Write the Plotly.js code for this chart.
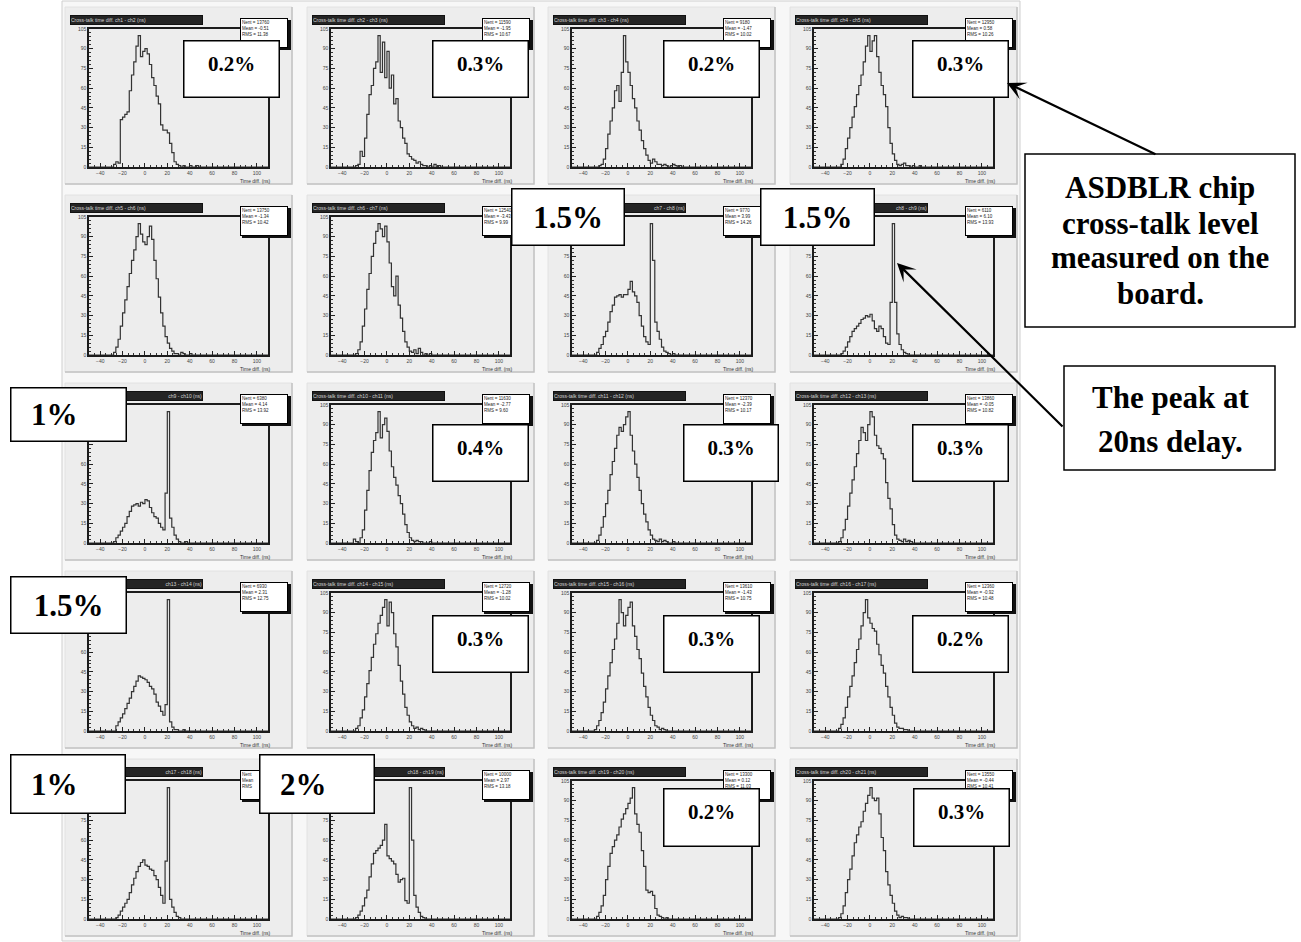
<!DOCTYPE html>
<html><head><meta charset="utf-8">
<script src="https://cdn.plot.ly/plotly-3.0.1.min.js"></script>
<style>html,body{margin:0;padding:0;background:#fff;}#chart{width:1301px;height:942px;}</style>
</head><body><div id="chart"></div>
<script>
// ---------------- data ----------------
const binStart = -30;          // ns, left edge of first bin
const binWidth = 2;            // ns
const xRange = [-50, 110];
const xTickStart = -40, xTickStep = 20;
const yTickStep = 15;

const hist_r1c1 = [0,2,4,3,36,38,40,42,58,70, 80,92,100,84,88,90,86,78,68,62, 54,48,32,28,28,26,18,11,4,2, 1,0,1,0,0,1,0,0,1,0];
const hist_r1c2 = [0,1,2,12,8,22,40,55,62,75, 80,100,72,95,68,88,60,70,48,52, 35,30,22,18,10,8,6,5,3,4, 2,1,1,0,1,0,2,0,1,0];
const hist_r1c3 = [0,0,1,2,6,14,25,35,45,58, 62,50,72,100,80,72,62,52,45,35, 28,20,14,9,5,3,6,4,2,2, 1,2,1,0,1,2,1,0,1,0];
const hist_r1c4 = [0,0,2,6,14,22,30,38,46,55, 62,70,80,92,100,88,96,100,84,72, 62,55,46,30,18,10,5,2,1,2, 3,1,1,0,1,0,0,1,0,0];
const hist_r2c1 = [0,2,6,12,22,32,42,52,62,72, 80,90,100,92,86,84,90,98,88,72, 58,44,32,22,14,9,5,3,1,1, 0,2,1,0,0,1,0,0,0,0];
const hist_r2c2 = [0,1,4,10,22,35,50,62,75,85, 94,100,96,90,98,86,70,52,45,60, 38,28,18,10,6,3,2,4,1,5, 2,0,1,0,1,0,0,0,0,0];
const hist_r2c3 = [0,2,5,8,14,18,25,33,38,44, 45,46,44,46,46,50,56,48,45,40, 30,22,14,10,8,100,72,25,18,12, 6,3,2,1,0,1,0,0,0,0];
const hist_r2c4 = [0,0,1,3,6,10,14,18,20,22, 24,27,28,30,29,31,26,20,18,22, 20,14,9,8,40,100,40,16,8,4, 2,1,0,0,0,0,0,0,0,0];
const hist_r3c1 = [0,1,4,6,9,12,15,20,24,28, 29,30,28,31,30,33,32,27,23,20, 19,15,12,10,38,100,19,12,6,3, 1,0,0,1,0,0,0,0,0,0];
const hist_r3c2 = [3,1,0,4,10,25,40,55,69,78, 84,100,80,90,95,85,70,58,50,44, 36,30,22,14,8,4,2,1,2,1, 1,0,0,0,1,0,0,0,0,0];
const hist_r3c3 = [0,2,6,12,20,30,40,52,62,72, 82,88,85,90,96,100,82,70,60,50, 40,30,22,16,10,6,3,2,1,3, 1,2,1,0,0,1,0,0,0,0];
const hist_r3c4 = [0,1,4,10,18,28,38,48,58,68, 78,88,84,78,90,100,96,82,74,72, 68,64,46,34,26,14,6,3,2,1, 3,1,2,1,0,0,0,0,0,0];
const hist_r4c1 = [0,0,4,7,10,13,17,21,25,30, 34,38,42,41,40,39,37,34,32,28, 22,19,15,12,20,100,7,3,1,1, 0,0,1,0,0,0,0,0,0,0];
const hist_r4c2 = [0,2,4,10,16,26,36,46,56,66, 74,82,88,94,100,80,98,90,74,64, 50,38,28,18,12,7,4,2,3,1, 2,1,0,0,0,0,0,0,0,0];
const hist_r4c3 = [1,4,8,14,22,32,42,52,62,70, 82,100,90,80,88,94,98,80,72,62, 55,44,34,26,18,12,8,4,3,1, 2,1,0,0,0,0,0,0,0,0];
const hist_r4c4 = [0,2,5,10,18,26,34,42,52,62, 70,80,90,100,86,82,78,76,66,58, 50,44,34,26,18,12,6,3,2,2, 1,1,0,0,0,0,0,0,0,0];
const hist_r5c1 = [0,0,1,3,6,9,12,15,20,26, 31,36,40,43,45,41,40,38,37,33, 30,24,18,12,44,100,15,9,5,2, 1,0,0,0,0,0,0,0,0,0];
const hist_r5c2 = [0,1,3,6,10,16,22,32,42,50, 52,54,56,60,72,48,46,44,42,34, 28,30,31,14,12,100,60,18,9,5, 2,1,0,0,0,0,0,0,0,0];
const hist_r5c3 = [0,2,5,10,18,30,40,50,55,60, 64,70,76,80,84,88,92,100,80,72, 66,52,40,22,20,21,18,8,3,2, 1,0,1,0,0,0,0,0,0,0];
const hist_r5c4 = [0,1,4,10,20,30,38,48,58,64, 70,74,82,88,94,100,92,90,92,80, 62,52,36,26,18,12,6,3,1,2, 1,1,0,0,0,0,0,0,0,0];

const levelLabels = ['0.2%','0.3%','0.2%','0.3%', '','','1.5%','1.5%', '1%','0.4%','0.3%','0.3%', '1.5%','0.3%','0.3%','0.2%', '1%','2%','0.2%','0.3%'];
const channelNumbers = [1,2,3,4,5,6,7,8,9,10,11,12,13,14,15,16,17,18,19,20];
const xAxisTitle = 'Time diff. (ns)';
const noteLevelLines = ['ASDBLR chip','cross-talk level','measured on the','board.'];
const notePeakLines = ['The peak at','20ns delay.'];

// ---------------- geometry (pixels) ----------------
const W = 1301, H = 942;
const X = p => p / W, Y = p => 1 - p / H;
const colLeft = [89, 331, 572, 814];
const rowBottom = [167, 355, 543, 731, 919];
const plotW = 179, plotH = 138;
// label boxes: x0,y0,x1,y1, style ('s' small/top, 'c' big centered, 'l' big left)
const labelBoxes = [
  [183,40,280,98,'s'], [432,40,529,98,'s'], [663,40,760,98,'s'], [912,40,1009,98,'s'],
  null, null, [511,188,625,246,'c'], [760,188,875,246,'c'],
  [10,387,127,442,'l'], [432,424,529,482,'s'], [683,424,779,482,'s'], [912,424,1009,482,'s'],
  [10,576,127,634,'c'], [432,615,529,673,'s'], [663,615,760,673,'s'], [912,615,1009,673,'s'],
  [10,754,126,814,'l'], [259,754,375,814,'l'], [663,788,760,847,'s'], [913,788,1010,847,'s']
];

const hists = [hist_r1c1,hist_r1c2,hist_r1c3,hist_r1c4, hist_r2c1,hist_r2c2,hist_r2c3,hist_r2c4,
               hist_r3c1,hist_r3c2,hist_r3c3,hist_r3c4, hist_r4c1,hist_r4c2,hist_r4c3,hist_r4c4,
               hist_r5c1,hist_r5c2,hist_r5c3,hist_r5c4];

const boxes = labelBoxes.filter(b => b);
const covered = (x0, x1, y0, y1) => boxes.some(b => x0 < b[2] && x1 > b[0] && y0 < b[3] && y1 > b[1]);

const data = [];
const shapes = [];
const annTitles = [], annStats = [], annAxis = [], annLabels = [];
const layout = {
  width: W, height: H, margin: {l:0, r:0, t:0, b:0},
  paper_bgcolor: '#ffffff', plot_bgcolor: 'rgba(0,0,0,0)', showlegend: false,
  font: {family: 'Liberation Sans, Arial, sans-serif'}
};

// canvas
shapes.push({type:'rect', xref:'paper', yref:'paper', x0:X(62), x1:X(1020), y0:Y(941), y1:Y(1),
  fillcolor:'#f7f7f7', line:{color:'#cfcfcf', width:1}, layer:'below'});

const serif = 'Liberation Serif, Times New Roman, serif';

hists.forEach((h, i) => {
  const r = Math.floor(i / 4), c = i % 4;
  const L = colLeft[c], B = rowBottom[r];
  const sfx = i === 0 ? '' : String(i + 1);

  // pad
  shapes.push({type:'rect', xref:'paper', yref:'paper', x0:X(L-24), x1:X(L+203), y0:Y(B+17), y1:Y(B-160),
    fillcolor:'#ededed', line:{color:'#e2e2e2', width:1}, layer:'below'});
  shapes.push({type:'path', xref:'paper', yref:'paper',
    path:`M${X(L-24)},${Y(B+17)} L${X(L+203)},${Y(B+17)} L${X(L+203)},${Y(B-160)}`,
    line:{color:'#c2c2c2', width:1.5}, layer:'below'});

  // histogram outline
  const xs = [xRange[0]], ys = [0];
  h.forEach((v, k) => { xs.push(binStart + k * binWidth); ys.push(v); });
  xs.push(binStart + h.length * binWidth); ys.push(0);
  xs.push(xRange[1]); ys.push(0);
  data.push({type:'scatter', mode:'lines', x:xs, y:ys, xaxis:'x'+sfx, yaxis:'y'+sfx,
    line:{shape:'hv', color:'#333333', width:1.2}, hoverinfo:'skip'});

  const ymax = Math.max(...h) * 1.05;
  // y tick labels: blank where a label box hides them
  const yVals = [], yText = [];
  for (let v = 0; v <= ymax; v += yTickStep) {
    yVals.push(v);
    const pyv = B - v / ymax * plotH;
    yText.push(covered(L-14, L-1, pyv-4, pyv+4) ? '' : String(v));
  }
  layout['xaxis'+sfx] = {
    domain:[X(L), X(L+plotW)], range:xRange, anchor:'y'+sfx,
    showline:true, mirror:true, linecolor:'#1c1c1c', linewidth:1.6,
    ticks:'inside', ticklen:4, tickwidth:1, tickcolor:'#222',
    tickmode:'linear', tick0:xTickStart, dtick:xTickStep,
    tickfont:{size:5, color:'#444'}, showgrid:false, zeroline:false,
    minor:{ticks:'inside', ticklen:2, dtick:5, tick0:0, tickcolor:'#333', showgrid:false},
    fixedrange:true
  };
  layout['yaxis'+sfx] = {
    domain:[Y(B), Y(B-plotH)], range:[0, ymax], anchor:'x'+sfx,
    showline:true, mirror:true, linecolor:'#1c1c1c', linewidth:1.6,
    ticks:'inside', ticklen:4, tickwidth:1, tickcolor:'#222',
    tickmode:'array', tickvals:yVals, ticktext:yText,
    tickfont:{size:5, color:'#444'}, showgrid:false, zeroline:false,
    minor:{ticks:'inside', ticklen:2, dtick:3, tick0:0, tickcolor:'#333', showgrid:false},
    fixedrange:true
  };

  // pad title bar (text kept in the visible part when a label box hides its left side)
  const ch = channelNumbers[i];
  const titleHidden = covered(L-19, L+60, B-152, B-142);
  annTitles.push({xref:'paper', yref:'paper', x:X(L-19), y:Y(B-152), xanchor:'left', yanchor:'top',
    text: titleHidden ? `ch${ch} - ch${ch+1} (ns)` : `Cross-talk time diff. ch${ch} - ch${ch+1} (ns)`,
    showarrow:false,
    font:{size:5, color:'#d4d4d4'}, bgcolor:'#242424', bordercolor:'#111', borderwidth:1, borderpad:0,
    width:131, height:8, align: titleHidden ? 'right' : 'left', valign:'middle'});

  // stats box (computed from the histogram)
  let n = 0, s = 0, s2 = 0;
  h.forEach((v, k) => { const xc = binStart + (k + 0.5) * binWidth; n += v; s += v * xc; s2 += v * xc * xc; });
  const mean = s / n, rms = Math.sqrt(Math.max(s2 / n - mean * mean, 0));
  shapes.push({type:'rect', xref:'paper', yref:'paper', x0:X(L+153), x1:X(L+202), y0:Y(B-117), y1:Y(B-147),
    fillcolor:'#111', line:{width:0}, layer:'above'});
  const statHidden = covered(L+153, L+178, B-147, B-131);
  annStats.push({xref:'paper', yref:'paper', x:X(L+151), y:Y(B-149), xanchor:'left', yanchor:'top',
    text: statHidden ? 'Nent<br>Mean<br>RMS'
                     : `Nent = ${Math.round(n*10)}<br>Mean = ${mean.toFixed(2)}<br>RMS = ${rms.toFixed(2)}`,
    showarrow:false, font:{size:4.5, color:'#222'}, bgcolor:'#ffffff', bordercolor:'#000',
    borderwidth:1, borderpad:1, width:44, height:26, align:'left', valign:'top'});

  // x axis title
  annAxis.push({xref:'paper', yref:'paper', x:X(L+plotW+5), y:Y(B+9), xanchor:'right', yanchor:'top',
    text:xAxisTitle, showarrow:false, font:{size:5, color:'#333'}});

  // cross-talk level label
  const bx = labelBoxes[i];
  if (bx && levelLabels[i]) {
    const [x0, y0, x1, y1, st] = bx;
    const big = st !== 's';
    const bw = 1.5, bp = big ? 4 : 10;
    annLabels.push({xref:'paper', yref:'paper', x:X(x0), y:Y(y0), xanchor:'left', yanchor:'top',
      text: st === 'l' ? '\u00a0\u00a0' + levelLabels[i] : levelLabels[i],
      showarrow:false, font:{family:serif, size: big ? 31 : 21, color:'#000', weight:'bold'},
      bgcolor:'#ffffff', bordercolor:'#000', borderwidth:bw, borderpad:bp,
      width:(x1-x0) - 2*(bw+bp), height:(y1-y0) - 2*(bw+bp),
      align: st === 'l' ? 'left' : 'center', valign: st === 's' ? 'top' : 'middle'});
  }
});

// side note boxes
shapes.push({type:'rect', xref:'paper', yref:'paper', x0:X(1025), x1:X(1295), y0:Y(327), y1:Y(154),
  fillcolor:'#ffffff', line:{color:'#000', width:1.5}, layer:'above'});
shapes.push({type:'rect', xref:'paper', yref:'paper', x0:X(1064), x1:X(1275), y0:Y(470), y1:Y(366),
  fillcolor:'#ffffff', line:{color:'#000', width:1.5}, layer:'above'});
const noteAnn = [];
const levelLineY = [188, 223, 258, 293];
noteLevelLines.forEach((t, k) => noteAnn.push({xref:'paper', yref:'paper', x:X(1160), y:Y(levelLineY[k]),
  xanchor:'center', yanchor:'middle', text:t, showarrow:false,
  font:{family:serif, size:31, color:'#000', weight:'bold'}}));
const peakLineY = [397, 441];
notePeakLines.forEach((t, k) => noteAnn.push({xref:'paper', yref:'paper', x:X(1170), y:Y(peakLineY[k]),
  xanchor:'center', yanchor:'middle', text:t, showarrow:false,
  font:{family:serif, size:31, color:'#000', weight:'bold'}}));

// arrows
const arrows = [
  {xref:'paper', yref:'paper', x:X(1007), y:Y(83), ax:150, ay:72, axref:'pixel', ayref:'pixel', text:'',
   showarrow:true, arrowhead:3, arrowsize:1.4, arrowwidth:2.2, arrowcolor:'#000', standoff:0},
  {xref:'paper', yref:'paper', x:X(897), y:Y(263), ax:167, ay:165, axref:'pixel', ayref:'pixel', text:'',
   showarrow:true, arrowhead:3, arrowsize:1.4, arrowwidth:2.2, arrowcolor:'#000', standoff:0}
];

layout.shapes = shapes;
layout.annotations = [].concat(annTitles, annStats, annAxis, annLabels, noteAnn, arrows);

Plotly.newPlot('chart', data, layout, {staticPlot:true, displayModeBar:false});
</script>
</body></html>
